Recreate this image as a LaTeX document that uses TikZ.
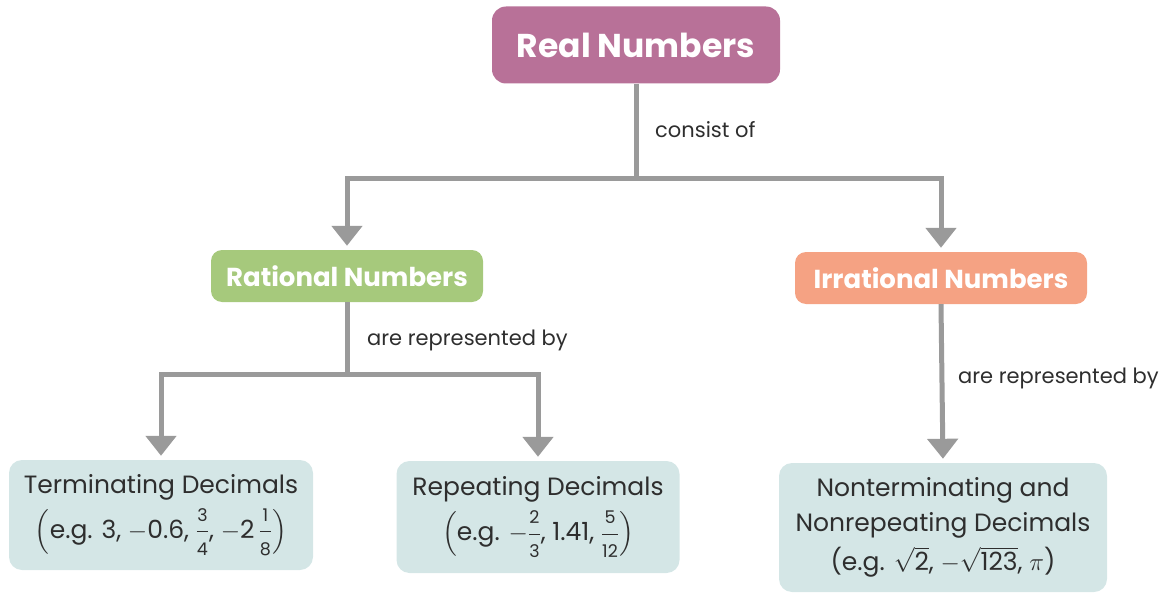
\documentclass[tikz,border=0pt]{standalone}
\usepackage{amsmath}
\usepackage{fontspec}
\setmainfont{Poppins}
\usetikzlibrary{arrows.meta}
\definecolor{realc}{HTML}{B87198}
\definecolor{ratc}{HTML}{A6C97C}
\definecolor{irrc}{HTML}{F5A283}
\definecolor{boxc}{HTML}{D4E6E6}
\definecolor{linec}{HTML}{9A9A9A}
\definecolor{txtc}{HTML}{2E2E2E}
\newcommand\fr[2]{\ensuremath{\genfrac{}{}{0.8pt}{0}{\scriptstyle\text{#1}}{\scriptstyle\text{#2}}}}
\tikzset{
  title/.style={rounded corners=14pt, fill=realc, text=white, font=\fontsize{33}{38}\selectfont\bfseries, minimum width=288pt, minimum height=77pt, inner sep=0pt},
  cat/.style={rounded corners=11pt, text=white, font=\fontsize{26}{30}\selectfont\bfseries, minimum height=52pt, inner sep=0pt},
  leaf/.style={rounded corners=13pt, fill=boxc, text=txtc, font=\fontsize{25}{35}\selectfont, align=center, inner sep=0pt},
  lbl/.style={text=txtc, font=\fontsize{21}{25}\selectfont, anchor=west, inner sep=0pt},
  conn/.style={draw=linec, line width=5pt},
  arr/.style={conn, -{Triangle[width=30pt,length=20pt]}, shorten >=4pt},
}
\begin{document}
\begin{tikzpicture}[x=1pt,y=-1pt]
\useasboundingbox (0,0) rectangle (1165,594);
\node[title] (real) at (636,45) {Real Numbers};
\node[cat, fill=ratc, minimum width=272pt] (rat) at (347,276) {Rational Numbers};
\node[cat, fill=irrc, minimum width=292pt] (irr) at (941,278) {Irrational Numbers};
\node[leaf, minimum width=304pt, minimum height=110pt] (term) at (161,515) {Terminating Decimals\\[7pt]$\left(\text{e.g. 3, $-$0.6, \fr{3}{4}, $-$2\,\fr{1}{8}}\right)$};
\node[leaf, minimum width=283pt, minimum height=112pt] (rep) at (538,517) {Repeating Decimals\\[7pt]$\left(\text{e.g. $-$\fr{2}{3}, 1.41, \fr{5}{12}}\right)$};
\node[leaf, minimum width=328pt, minimum height=129pt] (non) at (943,527.5) {Nonterminating and\\Nonrepeating Decimals\\[4pt](e.g. $\sqrt{\text{2}}$, $-\sqrt{\text{123}}$, $\pi$)};
\coordinate (j1) at (636,178);
\coordinate (j2) at (347,374);
\draw[conn] (real.south) -- (j1);
\draw[arr] (j1) -| (rat.north);
\draw[arr] (j1) -| (irr.north);
\draw[conn] (rat.south) -- (j2);
\draw[arr] (j2) -| (term.north);
\draw[arr] (j2) -| (rep.north);
\draw[arr] (irr.south) -- (non.north);
\node[lbl] (l1) at (655,130) {consist of};
\node[lbl] (l2) at (367,340) {are represented by};
\node[lbl] (l3) at (958,378) {are represented by};
\end{tikzpicture}
\end{document}
